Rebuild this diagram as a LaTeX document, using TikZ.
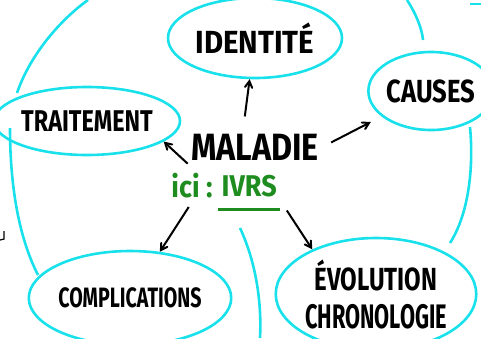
\documentclass[tikz,border=0pt]{standalone}
\usepackage{fontspec}
\setmainfont{Fira Sans}
\usepackage{graphicx}
\usepackage{xcolor}
\usetikzlibrary{arrows,positioning,shapes.geometric}
\definecolor{bubble}{RGB}{25,225,235}
\definecolor{leaf}{RGB}{30,140,30}
\newcommand{\hand}[3]{\scalebox{#2}[1]{\fontsize{#1}{#1}\selectfont\bfseries #3}}

\begin{document}
\begin{tikzpicture}[x=1pt,y=-1pt,
  bubble/.style={draw=bubble,line width=2.6pt,ellipse,inner sep=0pt},
  link/.style={->,>=angle 60,line width=2pt},
  loose/.style={draw=bubble,line width=2.6pt}]
\useasboundingbox (0,0) rectangle (481,338);
% stray strokes
\draw[loose] (88,0) .. controls (60,20) and (30,55) .. (17,93);
\draw[loose] (10,128) .. controls (10,190) and (20,240) .. (38,275);
\draw[loose] (407,0) .. controls (415,12) and (422,28) .. (423,40);
\draw[loose] (470,127) .. controls (474,170) and (468,215) .. (450,243);
\draw[loose] (240,228) .. controls (255,260) and (262,300) .. (260,338);
\draw[loose] (470,4) -- (481,4);
\draw[line width=1.2pt] (4,231) -- (4,239) -- (0,240);
% center
\node (maladie) at (255,147) {\hand{38}{0.85}{MALADIE}};
\node[text=leaf] (ici) at (192,186) {\hand{30}{0.9}{ici :}};
\node[text=leaf,right=2pt of ici] (ivrs) {\hand{30}{0.9}{IVRS}};
\draw[leaf,line width=2.5pt] ([yshift=-9pt]ivrs.south west) -- ([yshift=-9pt]ivrs.south east);
% bubbles
\node[bubble,minimum width=174pt,minimum height=80pt] (identite) at (255,38) {\hand{32}{0.92}{IDENTITÉ}};
\node[bubble,minimum width=162pt,minimum height=68pt] (traitement) at (87,121) {\hand{30}{0.78}{TRAITEMENT}};
\node[bubble,minimum width=112pt,minimum height=78pt] (causes) at (431,91) {\hand{32}{0.8}{CAUSES}};
\node[bubble,minimum width=184pt,minimum height=94pt] (complications) at (130,298) {\hand{28}{0.7}{COMPLICATIONS}};
\node[bubble,minimum width=190pt,minimum height=112pt,align=center,font=\fontsize{34}{38}\selectfont] (evolution) at (376,294)
  {\hand{32}{0.75}{ÉVOLUTION}\\\hand{34}{0.64}{CHRONOLOGIE}};
% arrows
\path[link,shorten <=14pt] ([xshift=-12pt]maladie.north) edge (identite);
\path[link] (maladie.south west) edge (traitement.-15);
\path[link,shorten <=10pt,shorten >=12pt] (maladie.east) edge (causes);
\path[link,shorten <=6pt] (ici.south) edge (complications);
\path[link,shorten <=12pt] (ivrs.south east) edge (evolution.145);
\end{tikzpicture}
\end{document}
